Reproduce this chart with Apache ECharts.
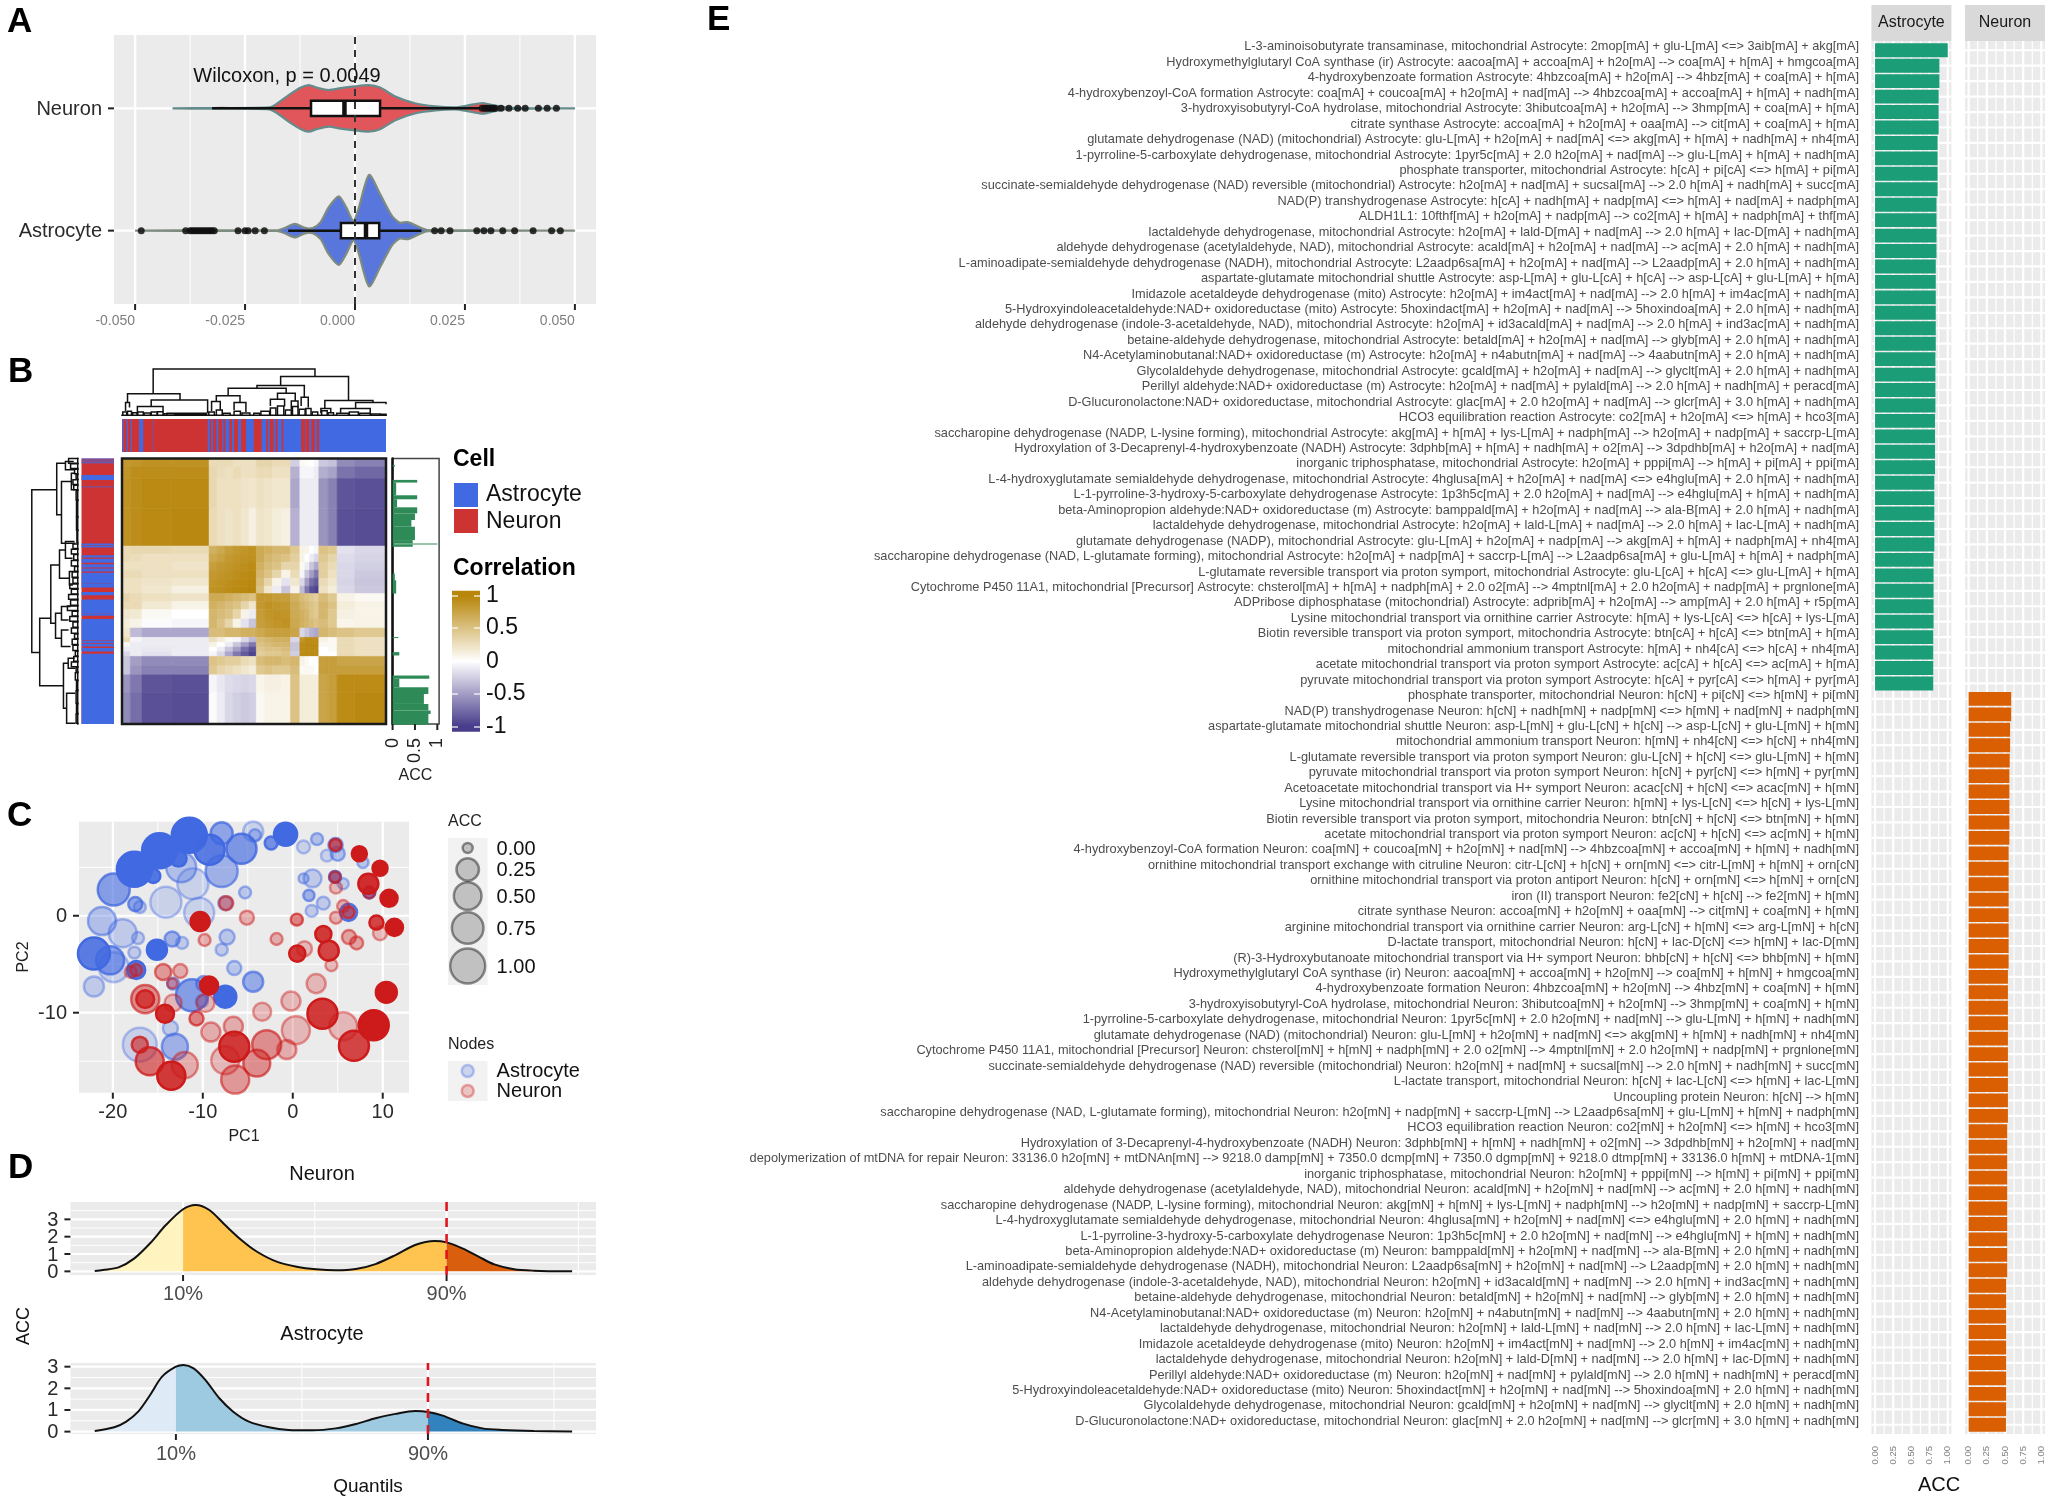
<!DOCTYPE html>
<html><head><meta charset="utf-8">
<style>html,body{margin:0;padding:0;background:#fff}#c{width:2050px;height:1504px}#c canvas{filter:blur(.45px)}</style>
<script src="https://cdn.jsdelivr.net/npm/echarts@6/dist/echarts.min.js"></script>
</head><body><div id="c"></div>
<script>
/* ---------- Panel A : violins ---------- */
const violinNeuronX=[-0.0415,-0.032,-0.0195,-0.0177,-0.015,-0.0123,-0.0105,-0.0087,-0.006,-0.0033,0,0.003,0.0057,0.0093,0.0138,0.0183,0.0228,0.0255,0.029,0.0318,0.0354,0.05];
const violinNeuronW=[0,0.003,0.008,0.04,0.11,0.17,0.19,0.17,0.15,0.165,0.18,0.19,0.17,0.095,0.04,0.016,0.008,0.022,0.044,0.022,0.005,0];
const violinAstroX=[-0.05,-0.03,-0.0177,-0.016,-0.0137,-0.0114,-0.0096,-0.0078,-0.006,-0.0037,-0.002,-0.0004,0.0007,0.0032,0.0057,0.0084,0.0102,0.012,0.0147,0.0165,0.03,0.05];
const violinAstroW=[0,0.003,0.003,0.022,0.055,0.022,0.022,0.07,0.19,0.28,0.19,0.08,0.165,0.455,0.3,0.12,0.065,0.07,0.027,0.005,0.002,0];
const boxNeuron=[-0.0325,-0.01,-0.0024,0.0057,0.0285];
const boxAstro=[-0.0152,-0.0032,0.0025,0.0055,0.0151];
const outNeuron=[0.0289,0.0295,0.03,0.0305,0.031,0.0315,0.0318,0.0332,0.035,0.037,0.0387,0.0417,0.0437,0.0458];
const outAstro=[-0.0486,-0.0385,-0.0375,-0.037,-0.0365,-0.036,-0.0355,-0.035,-0.0345,-0.034,-0.0335,-0.033,-0.0325,-0.032,-0.0266,-0.025,-0.0243,-0.0227,-0.0206,0.0181,0.0196,0.0216,0.0277,0.0293,0.0309,0.0336,0.0363,0.0405,0.0447,0.0467];
const xTicksA=[-0.05,-0.025,0,0.025,0.05];
const xMinorA=[-0.0375,-0.0125,0.0125,0.0375];

/* ---------- Panel B : correlation heat map (block edges in leaf order) ---------- */
const heatEdges=[0,25,60,150,262,286,310,334,358,382,404,428,452,480,507,535,550,564,578,592,620,647,700,794];
const heatRows=[
[.85,.88,.90,.90,.30,.30,.30,.25,.25,.25,.35,.35,.30,.30,-.25,.05,.02,.00,-.05,-.28,-.32,-.60,-.65],
[.88,.93,.94,.94,.32,.28,.25,.30,.25,.25,.30,.30,.25,.25,-.40,-.05,-.05,-.05,-.10,-.42,-.48,-.72,-.78],
[.90,.94,.97,.97,.32,.25,.25,.25,.22,.20,.25,.22,.20,.20,-.45,-.10,-.10,-.10,-.10,-.55,-.65,-.88,-.90],
[.90,.94,.97,.98,.30,.25,.22,.25,.20,.12,.22,.20,.15,.12,-.40,-.10,-.10,-.10,-.10,-.55,-.65,-.90,-.92],
[.30,.32,.32,.30,.65,.72,.80,.85,.88,.90,.70,.65,.60,.60,.45,.10,.10,.00,-.05,.50,.45,-.15,-.20],
[.30,.28,.25,.25,.72,.78,.85,.88,.90,.92,.70,.60,.55,.50,.40,.10,.00,-.10,-.20,.45,.35,-.18,-.22],
[.25,.25,.25,.22,.80,.85,.88,.90,.93,.95,.65,.55,.50,.35,.35,.05,-.10,-.30,-.45,.40,.30,-.20,-.25],
[.30,.30,.25,.25,.85,.88,.90,.93,.95,.97,.60,.50,.35,.10,.30,-.05,-.30,-.50,-.70,.40,.25,-.20,-.28],
[.25,.25,.22,.20,.88,.90,.93,.95,.97,.98,.55,.35,.10,-.15,.20,-.20,-.50,-.75,-.85,.30,.20,-.22,-.30],
[.25,.25,.20,.12,.90,.92,.95,.97,.98,.99,.50,.20,-.10,-.30,.10,-.35,-.70,-.90,-.97,.25,.15,-.20,-.28],
[.35,.30,.25,.22,.70,.70,.65,.60,.55,.50,.85,.85,.82,.80,.65,.55,.50,.45,.40,.55,.45,.10,.05],
[.30,.30,.18,.10,.65,.60,.55,.50,.35,.20,.85,.90,.88,.85,.70,.60,.55,.50,.45,.60,.50,.15,.10],
[.20,.18,.05,.00,.60,.55,.50,.35,.10,-.10,.82,.88,.90,.88,.70,.65,.60,.50,.45,.60,.45,.12,.10],
[.15,.10,-.02,-.05,.60,.50,.35,.10,-.15,-.30,.80,.85,.88,.90,.72,.65,.60,.55,.50,.55,.45,.08,.10],
[.20,-.35,-.45,-.45,.55,.55,.60,.60,.65,.65,.72,.78,.80,.80,.75,-.20,-.30,-.40,-.45,.60,.55,.50,.45],
[.30,-.05,-.10,-.10,.25,.15,.05,-.05,-.20,-.35,.55,.60,.65,.65,-.20,.88,.95,.95,.95,.10,.05,.30,.25],
[.05,-.10,-.10,-.10,.10,.00,-.10,-.30,-.50,-.70,.50,.55,.60,.60,-.30,.95,.97,.97,.97,.05,.05,.30,.25],
[-.10,-.10,-.12,-.10,.00,-.10,-.30,-.50,-.75,-.90,.45,.50,.50,.55,-.30,.95,.97,.97,.97,.00,.05,.30,.25],
[-.20,-.10,-.15,-.10,-.05,-.20,-.45,-.70,-.85,-.97,.40,.45,.45,.50,-.25,.95,.97,.97,.97,.00,.00,.30,.25],
[-.30,-.50,-.60,-.60,.50,.45,.40,.40,.30,.25,.55,.60,.60,.55,.60,.10,.05,.00,.00,.80,.80,.75,.75],
[-.30,-.55,-.65,-.65,.45,.35,.30,.25,.20,.15,.45,.50,.45,.45,.55,.05,.05,.05,.00,.80,.80,.80,.80],
[-.55,-.70,-.88,-.90,-.05,-.12,-.18,-.20,-.22,-.20,.08,.12,.12,.10,.50,.15,.15,.15,.15,.75,.80,.95,.95],
[-.60,-.75,-.90,-.92,-.02,-.10,-.20,-.25,-.28,-.25,.05,.10,.10,.10,.50,.15,.15,.15,.15,.75,.80,.95,.98]];
/* membership side bars: [start,end] of Astrocyte runs in leaf order, rest is Neuron */
const topBlueStart=[1,14,26,51,93,258,269,284,301,311,331,349,373,420,439,456,468,485,551,563,580,593];
const topBlueEnd=[5,18,30,64,95,264,274,290,305,323,337,358,396,434,444,462,480,539,553,569,586,794];
const leftBlueStart=[0,6,11,49,84,254,262,289,300,316,329,342,374,399,422,464,480,489,546,554,567,584];
const leftBlueEnd=[3,9,14,64,86,260,266,296,312,326,338,374,386,409,464,470,489,544,552,562,577,794];
/* marginal ACC bars in leaf order */
const accStart=[19,64,72,110,122,146,164,184,204,244,254,257,264,344,364,534,579,649,659,684,704,734,754,764];
const accEnd=[24,72,110,122,146,164,184,204,244,254,257,264,344,364,404,537,589,659,684,704,734,754,764,796];
const accValue=[.05,.55,.08,.55,.1,.55,.5,.42,.5,.45,1,.45,0,.05,.08,.13,.15,.82,.15,.8,.7,.8,.85,.8];
/* dendrograms: [from,to,height,heightFrom,heightTo] */
const topDendro=[[385,795,140,66,118],[320,453,66,40,48],[708,880,118,91,46],[648,768,91,83,56],[575,722,83,60,68],[545,605,60,43,40],[700,745,68,50,45],[760,778,56,30,25],[682,718,50,30,28],[735,752,45,20,25],[533,555,43,15,18],[590,620,40,18,12],[315,325,40,15,25],[380,523,48,28,8],[345,410,28,10,14],[420,520,8,3,3],[820,942,46,22,40],[810,835,22,8,10],[898,975,40,22,35],[860,935,22,10,8],[308,318,12,0,0],[320,330,14,0,0],[333,344,10,0,0],[346,360,12,0,0],[362,378,9,0,0],[380,395,12,0,0],[396,410,13,0,0],[412,440,7,0,0],[442,480,5,0,0],[482,518,4,0,0],[526,540,12,0,0],[545,560,18,0,0],[562,580,8,0,0],[590,606,14,0,0],[610,630,9,0,0],[640,655,8,0,0],[658,680,14,0,0],[682,696,24,0,0],[700,716,30,0,0],[720,735,18,0,0],[738,752,28,0,0],[755,770,20,0,0],[772,785,22,0,0],[788,802,12,0,0],[812,826,16,0,0],[828,842,10,0,0],[850,880,8,0,0],[882,905,12,0,0],[908,935,8,0,0],[938,960,6,0,0],[962,975,5,0,0],[306,975,2,0,0]];
const leftDendro=[[420,908,118,55,98],[340,495,55,33,43],[335,360,33,12,10],[395,580,43,18,8],[370,420,18,8,10],[805,1007,98,70,38],[645,820,70,48,58],[600,685,48,33,23],[790,865,58,43,43],[575,625,33,10,15],[665,705,23,12,14],[770,810,43,20,25],[840,890,43,25,20],[940,1075,38,26,30],[925,955,26,10,8],[1030,1120,30,8,8],[326,340,25,0,0],[342,356,20,0,0],[358,372,10,0,0],[374,388,6,0,0],[390,404,14,0,0],[406,420,12,0,0],[422,450,6,0,0],[452,500,5,0,0],[502,540,5,0,0],[542,578,4,0,0],[582,596,14,0,0],[598,612,18,0,0],[614,630,12,0,0],[632,648,18,0,0],[650,664,10,0,0],[666,682,16,0,0],[684,700,14,0,0],[702,716,22,0,0],[718,732,18,0,0],[734,748,25,0,0],[750,766,20,0,0],[768,782,28,0,0],[784,798,16,0,0],[800,814,22,0,0],[816,832,14,0,0],[834,850,18,0,0],[852,866,10,0,0],[868,884,16,0,0],[886,902,14,0,0],[904,918,8,0,0],[920,934,12,0,0],[936,950,18,0,0],[952,966,6,0,0],[968,990,8,0,0],[992,1020,5,0,0],[1022,1060,6,0,0],[1062,1090,5,0,0],[1092,1120,6,0,0],[326,1122,2,0,0]];
const corrLabels=['1','0.5','0','-0.5','-1'];
const margTicks=[0,.5,1];

/* ---------- Panel C : PCA bubble scatter ---------- */
const astroPC1=[-17.6,-14.8,-11.5,-9.25,-5.7,-7.9,-4.4,-4.2,-2.4,-0.8,1.2,2.7,4.75,5,3.8,7.8,-7.9,-12.4,-11.1,-14.1,-10.4,-19.9,-21.2,-22.1,-20.3,-19.9,-18.9,-17.6,-17.2,-17.5,-17,-15.5,-12.7,-15.1,-17.4,-13.4,-12.3,-7.3,-7.9,-6.5,-4.4,-5.3,-7.5,-22.1,-7.5,-11.2,-9.9,-13.3,-10.1,-17,-13.1,-13.6,2.2,1.2,1.8,3.4,2.1,4.7,5.6,8.5,6.2];
const astroPC2=[4.8,6.7,8.3,6.8,6.9,8.5,8.7,8.3,7.5,8.4,7.1,7.9,7.3,6.4,6.2,5.5,4.6,5,3.3,1.4,.3,2.7,-.55,-3.9,-4.6,-5.3,-1.8,-3.8,-2.3,1.2,.9,4.1,5.9,-3.5,-5.6,-2.4,-2.8,-2.2,-3.5,-5.4,-6.8,2.4,1.3,-7.3,-8.35,-8.2,-7,-7,-8.8,-13.3,-13.5,-11.6,3.85,3.85,2.1,1.3,.5,4,3.3,2.4,.35];
const astroACC=[1,1,1,.64,.64,.23,.16,.006,.014,.27,.014,.006,.026,.026,.006,.002,.77,.64,.71,.71,.64,.77,.52,.77,.52,.64,.52,.006,.006,.026,.006,.026,.06,.16,.1,.04,.006,.04,.006,.026,.16,.006,.026,.16,.23,.77,.04,.006,.006,.92,.41,.04,.1,0,.002,.014,.006,.006,.002,.006,.08];
const astroAlpha=[1,1,1,.85,.65,.55,.2,.35,.7,1,.2,.35,.5,.35,.2,.3,.45,.35,.2,.2,.2,.6,.35,.85,.6,.2,.25,.25,.25,.55,.25,.9,.9,1,.85,.45,.25,.3,.25,.3,.5,.3,.3,.25,1,.6,.45,.4,.3,.2,.45,.25,.25,.3,.45,.25,.25,.7,.25,.7,.7];
const neuronPC1=[9,10.4,3.3,6.8,5.6,.35,-.2,2.6,-3.4,-6.5,-2.9,-4,-.66,-6.4,-7.5,-6.6,-9.1,-13.5,-12,-15.9,-17,-16.4,-16.4,-14.2,-13.3,-10.7,-9.7,-9.3,-10.3,-14.4,-12.5,-18,-17.4,-9.8,-7.4,-5.1,.45,-1.8,.5,1.3,3.4,4,4.3,6.25,7.1,9.7,9.3,11.3,10.7,8.4,8.5,9.7,7.4,4.75,4.7,4.8,5.6,4.8,6.2,-13.4];
const neuronPC2=[-11.3,-7.9,-10.1,-13.4,-11.4,-11.8,-8.8,-7,-9.9,-13.5,-13.3,-15.2,-13.8,-16.9,-14.9,-11.4,-12,-16.5,-15.4,-15,-13.3,-8.6,-8.6,-10.1,-9,-10.6,-9,-7.2,-.6,-5.8,-5.7,-5.8,-5.6,-2.5,1.3,-.2,-.4,-2.4,-3.9,-3.4,-1.9,-3.6,-5.1,-2.2,-2.8,-1.8,-.7,-1.2,1.8,3.3,2.4,4.9,6.4,7.3,4,2.9,1,-.2,.35,-7];
const neuronACC=[.64,.19,.64,.64,.52,.52,.13,.13,.1,.64,.58,.46,.13,.52,.52,.13,.13,.52,.41,.52,.06,.52,.1,.1,.08,.026,.1,.1,.13,.06,.026,.006,.006,.006,.026,.026,.006,.006,.06,.04,.06,.16,.006,.026,.014,.026,.026,.08,.08,.16,.006,.04,.04,.006,.002,.006,.006,.006,.006,0];
const neuronAlpha=[1,1,.85,.8,.25,.25,.25,.25,.25,.85,.45,.45,.3,.4,.25,.3,.3,.85,.3,.6,.6,.45,.7,.9,.25,.5,.25,1,1,.4,.3,.25,.4,.3,.4,.3,.5,.3,.85,.25,.85,.8,.25,.35,.35,.25,.8,1,1,.9,.4,1,1,.6,.45,.25,.3,.3,.5,.3];
const legendACC=[0,.25,.5,.75,1];

/* ---------- Panel D : density quantile plots ---------- */
const densNX=[0,.017,.05,.083,.116,.149,.185,.211,.24,.273,.307,.34,.381,.423,.464,.505,.547,.588,.63,.671,.712,.737,.77,.804,.837,.878,.92,1];
const densNY=[.02,.08,.23,.75,1.62,2.67,3.58,3.83,3.54,2.67,1.81,1.13,.56,.27,.12,.06,.13,.42,.94,1.52,1.75,1.67,1.33,.85,.4,.12,.04,0];
const densAX=[0,.041,.066,.091,.116,.141,.17,.186,.207,.232,.261,.29,.323,.365,.406,.456,.505,.547,.588,.63,.671,.698,.729,.77,.812,.853,.92,1];
const densAY=[.03,.2,.46,.92,1.69,2.54,3,3.08,2.92,2.38,1.54,.92,.46,.2,.08,.06,.15,.35,.62,.82,.95,.91,.74,.38,.15,.08,.03,.01];
const quantN=[.185,.737], quantA=[.17,.698];
const quantLabels=['10%','90%'];

/* ---------- Panel E : reactions and ACC ---------- */
const reactions=[
"L-3-aminoisobutyrate transaminase, mitochondrial Astrocyte: 2mop[mA] + glu-L[mA] <=> 3aib[mA] + akg[mA]",
"Hydroxymethylglutaryl CoA synthase (ir) Astrocyte: aacoa[mA] + accoa[mA] + h2o[mA] --> coa[mA] + h[mA] + hmgcoa[mA]",
"4-hydroxybenzoate formation Astrocyte: 4hbzcoa[mA] + h2o[mA] --> 4hbz[mA] + coa[mA] + h[mA]",
"4-hydroxybenzoyl-CoA formation Astrocyte: coa[mA] + coucoa[mA] + h2o[mA] + nad[mA] --> 4hbzcoa[mA] + accoa[mA] + h[mA] + nadh[mA]",
"3-hydroxyisobutyryl-CoA hydrolase, mitochondrial Astrocyte: 3hibutcoa[mA] + h2o[mA] --> 3hmp[mA] + coa[mA] + h[mA]",
"citrate synthase Astrocyte: accoa[mA] + h2o[mA] + oaa[mA] --> cit[mA] + coa[mA] + h[mA]",
"glutamate dehydrogenase (NAD) (mitochondrial) Astrocyte: glu-L[mA] + h2o[mA] + nad[mA] <=> akg[mA] + h[mA] + nadh[mA] + nh4[mA]",
"1-pyrroline-5-carboxylate dehydrogenase, mitochondrial Astrocyte: 1pyr5c[mA] + 2.0 h2o[mA] + nad[mA] --> glu-L[mA] + h[mA] + nadh[mA]",
"phosphate transporter, mitochondrial Astrocyte: h[cA] + pi[cA] <=> h[mA] + pi[mA]",
"succinate-semialdehyde dehydrogenase (NAD) reversible (mitochondrial) Astrocyte: h2o[mA] + nad[mA] + sucsal[mA] --> 2.0 h[mA] + nadh[mA] + succ[mA]",
"NAD(P) transhydrogenase Astrocyte: h[cA] + nadh[mA] + nadp[mA] <=> h[mA] + nad[mA] + nadph[mA]",
"ALDH1L1: 10fthf[mA] + h2o[mA] + nadp[mA] --> co2[mA] + h[mA] + nadph[mA] + thf[mA]",
"lactaldehyde dehydrogenase, mitochondrial Astrocyte: h2o[mA] + lald-D[mA] + nad[mA] --> 2.0 h[mA] + lac-D[mA] + nadh[mA]",
"aldehyde dehydrogenase (acetylaldehyde, NAD), mitochondrial Astrocyte: acald[mA] + h2o[mA] + nad[mA] --> ac[mA] + 2.0 h[mA] + nadh[mA]",
"L-aminoadipate-semialdehyde dehydrogenase (NADH), mitochondrial Astrocyte: L2aadp6sa[mA] + h2o[mA] + nad[mA] --> L2aadp[mA] + 2.0 h[mA] + nadh[mA]",
"aspartate-glutamate mitochondrial shuttle Astrocyte: asp-L[mA] + glu-L[cA] + h[cA] --> asp-L[cA] + glu-L[mA] + h[mA]",
"Imidazole acetaldeyde dehydrogenase (mito) Astrocyte: h2o[mA] + im4act[mA] + nad[mA] --> 2.0 h[mA] + im4ac[mA] + nadh[mA]",
"5-Hydroxyindoleacetaldehyde:NAD+ oxidoreductase (mito) Astrocyte: 5hoxindact[mA] + h2o[mA] + nad[mA] --> 5hoxindoa[mA] + 2.0 h[mA] + nadh[mA]",
"aldehyde dehydrogenase (indole-3-acetaldehyde, NAD), mitochondrial Astrocyte: h2o[mA] + id3acald[mA] + nad[mA] --> 2.0 h[mA] + ind3ac[mA] + nadh[mA]",
"betaine-aldehyde dehydrogenase, mitochondrial Astrocyte: betald[mA] + h2o[mA] + nad[mA] --> glyb[mA] + 2.0 h[mA] + nadh[mA]",
"N4-Acetylaminobutanal:NAD+ oxidoreductase (m) Astrocyte: h2o[mA] + n4abutn[mA] + nad[mA] --> 4aabutn[mA] + 2.0 h[mA] + nadh[mA]",
"Glycolaldehyde dehydrogenase, mitochondrial Astrocyte: gcald[mA] + h2o[mA] + nad[mA] --> glyclt[mA] + 2.0 h[mA] + nadh[mA]",
"Perillyl aldehyde:NAD+ oxidoreductase (m) Astrocyte: h2o[mA] + nad[mA] + pylald[mA] --> 2.0 h[mA] + nadh[mA] + peracd[mA]",
"D-Glucuronolactone:NAD+ oxidoreductase, mitochondrial Astrocyte: glac[mA] + 2.0 h2o[mA] + nad[mA] --> glcr[mA] + 3.0 h[mA] + nadh[mA]",
"HCO3 equilibration reaction Astrocyte: co2[mA] + h2o[mA] <=> h[mA] + hco3[mA]",
"saccharopine dehydrogenase (NADP, L-lysine forming), mitochondrial Astrocyte: akg[mA] + h[mA] + lys-L[mA] + nadph[mA] --> h2o[mA] + nadp[mA] + saccrp-L[mA]",
"Hydroxylation of 3-Decaprenyl-4-hydroxybenzoate (NADH) Astrocyte: 3dphb[mA] + h[mA] + nadh[mA] + o2[mA] --> 3dpdhb[mA] + h2o[mA] + nad[mA]",
"inorganic triphosphatase, mitochondrial Astrocyte: h2o[mA] + pppi[mA] --> h[mA] + pi[mA] + ppi[mA]",
"L-4-hydroxyglutamate semialdehyde dehydrogenase, mitochondrial Astrocyte: 4hglusa[mA] + h2o[mA] + nad[mA] <=> e4hglu[mA] + 2.0 h[mA] + nadh[mA]",
"L-1-pyrroline-3-hydroxy-5-carboxylate dehydrogenase Astrocyte: 1p3h5c[mA] + 2.0 h2o[mA] + nad[mA] --> e4hglu[mA] + h[mA] + nadh[mA]",
"beta-Aminopropion aldehyde:NAD+ oxidoreductase (m) Astrocyte: bamppald[mA] + h2o[mA] + nad[mA] --> ala-B[mA] + 2.0 h[mA] + nadh[mA]",
"lactaldehyde dehydrogenase, mitochondrial Astrocyte: h2o[mA] + lald-L[mA] + nad[mA] --> 2.0 h[mA] + lac-L[mA] + nadh[mA]",
"glutamate dehydrogenase (NADP), mitochondrial Astrocyte: glu-L[mA] + h2o[mA] + nadp[mA] --> akg[mA] + h[mA] + nadph[mA] + nh4[mA]",
"saccharopine dehydrogenase (NAD, L-glutamate forming), mitochondrial Astrocyte: h2o[mA] + nadp[mA] + saccrp-L[mA] --> L2aadp6sa[mA] + glu-L[mA] + h[mA] + nadph[mA]",
"L-glutamate reversible transport via proton symport, mitochondrial Astrocyte: glu-L[cA] + h[cA] <=> glu-L[mA] + h[mA]",
"Cytochrome P450 11A1, mitochondrial [Precursor] Astrocyte: chsterol[mA] + h[mA] + nadph[mA] + 2.0 o2[mA] --> 4mptnl[mA] + 2.0 h2o[mA] + nadp[mA] + prgnlone[mA]",
"ADPribose diphosphatase (mitochondrial) Astrocyte: adprib[mA] + h2o[mA] --> amp[mA] + 2.0 h[mA] + r5p[mA]",
"Lysine mitochondrial transport via ornithine carrier Astrocyte: h[mA] + lys-L[cA] <=> h[cA] + lys-L[mA]",
"Biotin reversible transport via proton symport, mitochondria Astrocyte: btn[cA] + h[cA] <=> btn[mA] + h[mA]",
"mitochondrial ammonium transport Astrocyte: h[mA] + nh4[cA] <=> h[cA] + nh4[mA]",
"acetate mitochondrial transport via proton symport Astrocyte: ac[cA] + h[cA] <=> ac[mA] + h[mA]",
"pyruvate mitochondrial transport via proton symport Astrocyte: h[cA] + pyr[cA] <=> h[mA] + pyr[mA]",
"phosphate transporter, mitochondrial Neuron: h[cN] + pi[cN] <=> h[mN] + pi[mN]",
"NAD(P) transhydrogenase Neuron: h[cN] + nadh[mN] + nadp[mN] <=> h[mN] + nad[mN] + nadph[mN]",
"aspartate-glutamate mitochondrial shuttle Neuron: asp-L[mN] + glu-L[cN] + h[cN] --> asp-L[cN] + glu-L[mN] + h[mN]",
"mitochondrial ammonium transport Neuron: h[mN] + nh4[cN] <=> h[cN] + nh4[mN]",
"L-glutamate reversible transport via proton symport Neuron: glu-L[cN] + h[cN] <=> glu-L[mN] + h[mN]",
"pyruvate mitochondrial transport via proton symport Neuron: h[cN] + pyr[cN] <=> h[mN] + pyr[mN]",
"Acetoacetate mitochondrial transport via H+ symport Neuron: acac[cN] + h[cN] <=> acac[mN] + h[mN]",
"Lysine mitochondrial transport via ornithine carrier Neuron: h[mN] + lys-L[cN] <=> h[cN] + lys-L[mN]",
"Biotin reversible transport via proton symport, mitochondria Neuron: btn[cN] + h[cN] <=> btn[mN] + h[mN]",
"acetate mitochondrial transport via proton symport Neuron: ac[cN] + h[cN] <=> ac[mN] + h[mN]",
"4-hydroxybenzoyl-CoA formation Neuron: coa[mN] + coucoa[mN] + h2o[mN] + nad[mN] --> 4hbzcoa[mN] + accoa[mN] + h[mN] + nadh[mN]",
"ornithine mitochondrial transport exchange with citruline Neuron: citr-L[cN] + h[cN] + orn[mN] <=> citr-L[mN] + h[mN] + orn[cN]",
"ornithine mitochondrial transport via proton antiport Neuron: h[cN] + orn[mN] <=> h[mN] + orn[cN]",
"iron (II) transport Neuron: fe2[cN] + h[cN] --> fe2[mN] + h[mN]",
"citrate synthase Neuron: accoa[mN] + h2o[mN] + oaa[mN] --> cit[mN] + coa[mN] + h[mN]",
"arginine mitochondrial transport via ornithine carrier Neuron: arg-L[cN] + h[mN] <=> arg-L[mN] + h[cN]",
"D-lactate transport, mitochondrial Neuron: h[cN] + lac-D[cN] <=> h[mN] + lac-D[mN]",
"(R)-3-Hydroxybutanoate mitochondrial transport via H+ symport Neuron: bhb[cN] + h[cN] <=> bhb[mN] + h[mN]",
"Hydroxymethylglutaryl CoA synthase (ir) Neuron: aacoa[mN] + accoa[mN] + h2o[mN] --> coa[mN] + h[mN] + hmgcoa[mN]",
"4-hydroxybenzoate formation Neuron: 4hbzcoa[mN] + h2o[mN] --> 4hbz[mN] + coa[mN] + h[mN]",
"3-hydroxyisobutyryl-CoA hydrolase, mitochondrial Neuron: 3hibutcoa[mN] + h2o[mN] --> 3hmp[mN] + coa[mN] + h[mN]",
"1-pyrroline-5-carboxylate dehydrogenase, mitochondrial Neuron: 1pyr5c[mN] + 2.0 h2o[mN] + nad[mN] --> glu-L[mN] + h[mN] + nadh[mN]",
"glutamate dehydrogenase (NAD) (mitochondrial) Neuron: glu-L[mN] + h2o[mN] + nad[mN] <=> akg[mN] + h[mN] + nadh[mN] + nh4[mN]",
"Cytochrome P450 11A1, mitochondrial [Precursor] Neuron: chsterol[mN] + h[mN] + nadph[mN] + 2.0 o2[mN] --> 4mptnl[mN] + 2.0 h2o[mN] + nadp[mN] + prgnlone[mN]",
"succinate-semialdehyde dehydrogenase (NAD) reversible (mitochondrial) Neuron: h2o[mN] + nad[mN] + sucsal[mN] --> 2.0 h[mN] + nadh[mN] + succ[mN]",
"L-lactate transport, mitochondrial Neuron: h[cN] + lac-L[cN] <=> h[mN] + lac-L[mN]",
"Uncoupling protein Neuron: h[cN] --> h[mN]",
"saccharopine dehydrogenase (NAD, L-glutamate forming), mitochondrial Neuron: h2o[mN] + nadp[mN] + saccrp-L[mN] --> L2aadp6sa[mN] + glu-L[mN] + h[mN] + nadph[mN]",
"HCO3 equilibration reaction Neuron: co2[mN] + h2o[mN] <=> h[mN] + hco3[mN]",
"Hydroxylation of 3-Decaprenyl-4-hydroxybenzoate (NADH) Neuron: 3dphb[mN] + h[mN] + nadh[mN] + o2[mN] --> 3dpdhb[mN] + h2o[mN] + nad[mN]",
"depolymerization of mtDNA for repair Neuron: 33136.0 h2o[mN] + mtDNAn[mN] --> 9218.0 damp[mN] + 7350.0 dcmp[mN] + 7350.0 dgmp[mN] + 9218.0 dtmp[mN] + 33136.0 h[mN] + mtDNA-1[mN]",
"inorganic triphosphatase, mitochondrial Neuron: h2o[mN] + pppi[mN] --> h[mN] + pi[mN] + ppi[mN]",
"aldehyde dehydrogenase (acetylaldehyde, NAD), mitochondrial Neuron: acald[mN] + h2o[mN] + nad[mN] --> ac[mN] + 2.0 h[mN] + nadh[mN]",
"saccharopine dehydrogenase (NADP, L-lysine forming), mitochondrial Neuron: akg[mN] + h[mN] + lys-L[mN] + nadph[mN] --> h2o[mN] + nadp[mN] + saccrp-L[mN]",
"L-4-hydroxyglutamate semialdehyde dehydrogenase, mitochondrial Neuron: 4hglusa[mN] + h2o[mN] + nad[mN] <=> e4hglu[mN] + 2.0 h[mN] + nadh[mN]",
"L-1-pyrroline-3-hydroxy-5-carboxylate dehydrogenase Neuron: 1p3h5c[mN] + 2.0 h2o[mN] + nad[mN] --> e4hglu[mN] + h[mN] + nadh[mN]",
"beta-Aminopropion aldehyde:NAD+ oxidoreductase (m) Neuron: bamppald[mN] + h2o[mN] + nad[mN] --> ala-B[mN] + 2.0 h[mN] + nadh[mN]",
"L-aminoadipate-semialdehyde dehydrogenase (NADH), mitochondrial Neuron: L2aadp6sa[mN] + h2o[mN] + nad[mN] --> L2aadp[mN] + 2.0 h[mN] + nadh[mN]",
"aldehyde dehydrogenase (indole-3-acetaldehyde, NAD), mitochondrial Neuron: h2o[mN] + id3acald[mN] + nad[mN] --> 2.0 h[mN] + ind3ac[mN] + nadh[mN]",
"betaine-aldehyde dehydrogenase, mitochondrial Neuron: betald[mN] + h2o[mN] + nad[mN] --> glyb[mN] + 2.0 h[mN] + nadh[mN]",
"N4-Acetylaminobutanal:NAD+ oxidoreductase (m) Neuron: h2o[mN] + n4abutn[mN] + nad[mN] --> 4aabutn[mN] + 2.0 h[mN] + nadh[mN]",
"lactaldehyde dehydrogenase, mitochondrial Neuron: h2o[mN] + lald-L[mN] + nad[mN] --> 2.0 h[mN] + lac-L[mN] + nadh[mN]",
"Imidazole acetaldeyde dehydrogenase (mito) Neuron: h2o[mN] + im4act[mN] + nad[mN] --> 2.0 h[mN] + im4ac[mN] + nadh[mN]",
"lactaldehyde dehydrogenase, mitochondrial Neuron: h2o[mN] + lald-D[mN] + nad[mN] --> 2.0 h[mN] + lac-D[mN] + nadh[mN]",
"Perillyl aldehyde:NAD+ oxidoreductase (m) Neuron: h2o[mN] + nad[mN] + pylald[mN] --> 2.0 h[mN] + nadh[mN] + peracd[mN]",
"5-Hydroxyindoleacetaldehyde:NAD+ oxidoreductase (mito) Neuron: 5hoxindact[mN] + h2o[mN] + nad[mN] --> 5hoxindoa[mN] + 2.0 h[mN] + nadh[mN]",
"Glycolaldehyde dehydrogenase, mitochondrial Neuron: gcald[mN] + h2o[mN] + nad[mN] --> glyclt[mN] + 2.0 h[mN] + nadh[mN]",
"D-Glucuronolactone:NAD+ oxidoreductase, mitochondrial Neuron: glac[mN] + 2.0 h2o[mN] + nad[mN] --> glcr[mN] + 3.0 h[mN] + nadh[mN]"];
const accAstrocyte=[1,.885,.885,.875,.875,.875,.86,.86,.86,.86,.845,.845,.845,.845,.835,.835,.835,.835,.835,.835,.83,.83,.83,.83,.825,.825,.825,.825,.815,.815,.815,.815,.815,.805,.805,.805,.805,.805,.8,.8,.8,.8];
const accNeuron=[.585,.585,.57,.57,.565,.56,.56,.56,.56,.56,.55,.55,.55,.55,.55,.55,.55,.55,.54,.54,.54,.54,.54,.54,.54,.54,.54,.54,.53,.53,.53,.53,.53,.53,.53,.53,.53,.53,.515,.515,.515,.515,.515,.515,.515,.515,.515,.513];
const accTicks=[0,.25,.5,.75,1];
const accTickMinor=[.125,.375,.625,.875];

/* ---------- colours & page layout ---------- */
const FONT='"Liberation Sans",Arial,sans-serif';
const BLUE='#4169E1',RED='#CD3333',PANEL='#EBEBEB';
const layout={
 A:[114,35,482,269],heat:[122,458.5,264,265.5],topBar:[122,419,264,33],topDen:[122,368,264,48],
 leftBar:[81.5,458.5,32.5,265.5],leftDen:[31,458.5,47.5,265.5],marg:[392.6,458.5,46.5,265.5],
 C:[79,821.7,330,271],DN:[70.4,1202,525.6,73],DA:[70.4,1363,525.6,71],
 EA:[1871.4,41,80,1393],EN:[1965,41,80,1393],ELab:[1860,39.2,1,1389.9]};

const grids=[],xAxes=[],yAxes=[],series=[];
const F=(s,b)=>(b?'bold ':'')+s+'px '+FONT;
function axis(i,o){
  return Object.assign({type:'value',gridIndex:i,splitLine:{show:false},axisLine:{show:false},axisTick:{show:false},axisLabel:{show:false}},o);
}
function addGrid(r,bg,x,y){
  const i=grids.length;
  grids.push({left:r[0],top:r[1],width:r[2],height:r[3],show:!!bg,backgroundColor:bg||'transparent',borderWidth:0,containLabel:false});
  xAxes.push(axis(i,x));yAxes.push(axis(i,y));
  return i;
}
/* ticks and tick labels placed through the axis scale */
function marks(i,dir,vals,texts,at,o){
  const tl=o.tick===undefined?6:o.tick;
  series.push({type:'custom',xAxisIndex:i,yAxisIndex:i,silent:true,clip:false,z:12,data:vals.map((v,k)=>[v,k]),
   encode:dir==='x'?{x:0}:{y:0},
   renderItem:(p,api)=>{
     const v=api.value(0),k=api.value(1),c=dir==='x'?api.coord([v,at]):api.coord([at,v]),kids=[];
     if(tl>0)kids.push(dir==='x'?{type:'line',shape:{x1:c[0],y1:c[1],x2:c[0],y2:c[1]+tl},style:{stroke:'#222',lineWidth:2}}
                                :{type:'line',shape:{x1:c[0]-tl,y1:c[1],x2:c[0],y2:c[1]},style:{stroke:'#222',lineWidth:2}});
     kids.push({type:'text',x:dir==='x'?c[0]:c[0]-o.off,y:dir==='x'?c[1]+o.off:c[1]+1,rotation:o.rot||0,
       style:{text:texts[k],font:F(o.size),fill:o.color,align:o.align||(dir==='x'?'center':'right'),verticalAlign:'middle'}});
     return {type:'group',children:kids};
   }});
}
function gridLines(i,xr,yr,xMaj,xMin,yMaj,yMin,wMaj,wMin){
  const d=[];
  xMaj.forEach(v=>d.push([v,yr[0],v,yr[1],wMaj]));
  xMin.forEach(v=>d.push([v,yr[0],v,yr[1],wMin]));
  yMaj.forEach(v=>d.push([xr[0],v,xr[1],v,wMaj]));
  yMin.forEach(v=>d.push([xr[0],v,xr[1],v,wMin]));
  series.push({type:'custom',xAxisIndex:i,yAxisIndex:i,silent:true,z:1,clip:true,data:d,encode:{x:[0,2],y:[1,3]},
    renderItem:(p,api)=>{const a=api.coord([api.value(0),api.value(1)]),b=api.coord([api.value(2),api.value(3)]);
      return {type:'line',shape:{x1:a[0],y1:a[1],x2:b[0],y2:b[1]},style:{stroke:'#fff',lineWidth:api.value(4)}};}});
}

/* ---- A ---- */
const iA=addGrid(layout.A,PANEL,{min:-0.0548,max:0.0548},{min:.4,max:2.6});
gridLines(iA,[-0.0548,0.0548],[.4,2.6],xTicksA,xMinorA,[1,2],[],2.4,1);
marks(iA,'x',xTicksA,xTicksA.map(v=>v.toFixed(3)),.4,{off:17,size:14,color:'#7f7f7f',align:'right'});
marks(iA,'y',[1,2],['Astrocyte','Neuron'],-0.0548,{off:12,size:20,color:'#2a2a2a'});
function violin(xs,ws,cat,fill,stroke){
  series.push({type:'custom',xAxisIndex:iA,yAxisIndex:iA,z:3,silent:true,data:[[cat]],encode:{y:0},
   renderItem:(p,api)=>{const c=api.value(0),pts=[];
     xs.forEach((x,k)=>pts.push(api.coord([x,c+ws[k]])));
     for(let k=xs.length-1;k>=0;k--)pts.push(api.coord([xs[k],c-ws[k]]));
     return {type:'polygon',shape:{points:pts,smooth:.25},style:{fill:fill,stroke:stroke,lineWidth:2.2}};}});
}
violin(violinNeuronX,violinNeuronW,2,'#E0565A','#648C8C');
violin(violinAstroX,violinAstroW,1,'#5876DC','#7E8C80');
function boxPlot(b,cat){
  const hw=.0628;
  series.push({type:'custom',xAxisIndex:iA,yAxisIndex:iA,z:4,silent:true,data:[b],encode:{x:[0,1,2,3,4]},
   renderItem:(p,api)=>{const v=[0,1,2,3,4].map(k=>api.value(k));
     const pt=(x,y)=>api.coord([x,y]);
     const lo=pt(v[0],cat),hi=pt(v[4],cat),a=pt(v[1],cat+hw),d=pt(v[3],cat-hw),m1=pt(v[2],cat+hw),m2=pt(v[2],cat-hw);
     return {type:'group',children:[
      {type:'line',shape:{x1:lo[0],y1:lo[1],x2:hi[0],y2:hi[1]},style:{stroke:'#111',lineWidth:2.5}},
      {type:'rect',shape:{x:a[0],y:a[1],width:d[0]-a[0],height:d[1]-a[1]},style:{fill:'#fff',stroke:'#111',lineWidth:2.5}},
      {type:'line',shape:{x1:m1[0],y1:m1[1],x2:m2[0],y2:m2[1]},style:{stroke:'#111',lineWidth:4.5}}]};}});
}
boxPlot(boxNeuron,2);boxPlot(boxAstro,1);
series.push({type:'scatter',xAxisIndex:iA,yAxisIndex:iA,z:5,silent:true,symbolSize:7,itemStyle:{color:'#111',opacity:.85},data:outNeuron.map(x=>[x,2]).concat(outAstro.map(x=>[x,1]))});
series.push({type:'line',xAxisIndex:iA,yAxisIndex:iA,z:6,silent:true,symbol:'none',data:[[0,.4],[0,2.6]],lineStyle:{color:'#333',width:2,type:[7,6]}});

/* ---- B ---- */
const iH=addGrid(layout.heat,null,{min:0,max:794},{min:0,max:794,inverse:true});
const heatData=[];heatRows.forEach((r,j)=>r.forEach((v,i)=>heatData.push([i,j,v])));
const heatIdx=series.length;
series.push({type:'custom',xAxisIndex:iH,yAxisIndex:iH,z:2,silent:true,data:heatData,encode:{tooltip:2},
 renderItem:(p,api)=>{const i=api.value(0),j=api.value(1);
   const a=api.coord([heatEdges[i],heatEdges[j]]),b=api.coord([heatEdges[i+1],heatEdges[j+1]]),c=api.visual('color');
   return {type:'rect',shape:{x:a[0],y:a[1],width:b[0]-a[0],height:b[1]-a[1]},style:{fill:c,stroke:c,lineWidth:.6}};}});
function runs(start,end){return start.map((s,k)=>[s,end[k]]);}
const iTB=addGrid(layout.topBar,RED,{min:0,max:794},{min:0,max:1});
series.push({type:'custom',xAxisIndex:iTB,yAxisIndex:iTB,z:2,silent:true,data:runs(topBlueStart,topBlueEnd),encode:{x:[0,1]},
 renderItem:(p,api)=>{const a=api.coord([api.value(0),1]),b=api.coord([api.value(1),0]);
   return {type:'rect',shape:{x:a[0],y:a[1],width:b[0]-a[0],height:b[1]-a[1]},style:{fill:BLUE}};}});
const iLB=addGrid(layout.leftBar,RED,{min:0,max:1},{min:0,max:794,inverse:true});
series.push({type:'custom',xAxisIndex:iLB,yAxisIndex:iLB,z:2,silent:true,data:runs(leftBlueStart,leftBlueEnd),encode:{y:[0,1]},
 renderItem:(p,api)=>{const a=api.coord([0,api.value(0)]),b=api.coord([1,api.value(1)]);
   return {type:'rect',shape:{x:a[0],y:a[1],width:b[0]-a[0],height:b[1]-a[1]},style:{fill:BLUE}};}});
const iTD=addGrid(layout.topDen,null,{min:306,max:975},{min:0,max:143});
series.push({type:'custom',xAxisIndex:iTD,yAxisIndex:iTD,z:2,silent:true,clip:false,data:topDendro,encode:{x:[0,1],y:[2,3,4]},
 renderItem:(p,api)=>{const x0=api.value(0),x1=api.value(1),h=api.value(2),a=api.coord([x0,api.value(3)]),b=api.coord([x0,h]),c=api.coord([x1,h]),d=api.coord([x1,api.value(4)]);
   return {type:'polyline',shape:{points:[a,b,c,d]},style:{fill:'none',stroke:'#111',lineWidth:1.5}};}});
const iLD=addGrid(layout.leftDen,null,{min:0,max:120,inverse:true},{min:326,max:1122,inverse:true});
series.push({type:'custom',xAxisIndex:iLD,yAxisIndex:iLD,z:2,silent:true,clip:false,data:leftDendro,encode:{y:[0,1],x:[2,3,4]},
 renderItem:(p,api)=>{const y0=api.value(0),y1=api.value(1),h=api.value(2),a=api.coord([api.value(3),y0]),b=api.coord([h,y0]),c=api.coord([h,y1]),d=api.coord([api.value(4),y1]);
   return {type:'polyline',shape:{points:[a,b,c,d]},style:{fill:'none',stroke:'#111',lineWidth:1.5}};}});
const iM=addGrid(layout.marg,null,{min:0,max:1.04},{min:0,max:794,inverse:true,axisLine:{show:true,lineStyle:{color:'#111',width:2.5}}});
grids[iM].show=true;grids[iM].borderWidth=1.5;grids[iM].borderColor='#444';
marks(iM,'x',margTicks,margTicks.map(String),794,{off:14,size:18,color:'#222',rot:Math.PI/2,align:'right'});
series.push({type:'custom',xAxisIndex:iM,yAxisIndex:iM,z:2,silent:true,data:accValue.map((v,k)=>[accStart[k],accEnd[k],v]),encode:{y:[0,1],x:2},
 renderItem:(p,api)=>{const a=api.coord([0,api.value(0)]),b=api.coord([api.value(2),api.value(1)]);
   return {type:'rect',shape:{x:a[0],y:a[1],width:b[0]-a[0],height:b[1]-a[1]},style:{fill:'#2E8B57'}};}});

/* ---- C ---- */
const cX=[-20,-10,0,10],cXm=[-15,-5,5],cY=[-10,0],cYm=[-15,-5,5];
const iC=addGrid(layout.C,PANEL,{min:-23.76,max:12.92},{min:-18.25,max:9.7});
gridLines(iC,[-23.76,12.92],[-18.25,9.7],cX,cXm,cY,cYm,2.2,1);
marks(iC,'x',cX,cX.map(String),-18.25,{off:20,size:20,color:'#2a2a2a'});
marks(iC,'y',cY,cY.map(String),-23.76,{off:12,size:20,color:'#2a2a2a'});
const sizeOf=a=>10+25*Math.sqrt(a);
function bubbles(xs,ys,acc,al,col){
  series.push({type:'scatter',xAxisIndex:iC,yAxisIndex:iC,z:3,silent:true,clip:true,
   data:xs.map((x,k)=>({value:[x,ys[k]],symbolSize:sizeOf(acc[k]),
     itemStyle:{opacity:1,borderWidth:2.5,color:echarts.color.modifyAlpha(col,al[k]),borderColor:echarts.color.modifyAlpha(col,Math.min(1,al[k]+.18))}}))});
}
bubbles(astroPC1,astroPC2,astroACC,astroAlpha,'#4169E1');
bubbles(neuronPC1,neuronPC2,neuronACC,neuronAlpha,'#CD1A1A');

/* ---- D ---- */
function density(r,xs,ys,q,yTicks,yMinor,cols,ymin,ymax,off){
  const xr=[-.051,1.05],xMin=[(q[0]+q[1])/2,q[1]+(q[1]-q[0])/2];
  const i=addGrid(r,PANEL,{min:xr[0],max:xr[1]},{min:ymin,max:ymax});
  gridLines(i,xr,[ymin,ymax],q,xMin,yTicks,yMinor,2.2,1);
  marks(i,'x',q,quantLabels,ymin,{off:off,size:20,color:'#4d4d4d'});
  marks(i,'y',yTicks,yTicks.map(String),xr[0],{off:12,size:20,color:'#2a2a2a'});
  const pts=xs.map((x,k)=>[x,ys[k]]);
  const parts=[pts.filter(p=>p[0]<=q[0]),pts.filter(p=>p[0]>=q[0]&&p[0]<=q[1]),pts.filter(p=>p[0]>=q[1])];
  parts.forEach((d,k)=>series.push({type:'line',xAxisIndex:i,yAxisIndex:i,z:3,silent:true,symbol:'none',smooth:.3,data:d,lineStyle:{width:0},areaStyle:{color:cols[k],opacity:1,origin:0}}));
  series.push({type:'line',xAxisIndex:i,yAxisIndex:i,z:4,silent:true,symbol:'none',smooth:.3,data:pts,lineStyle:{color:'#111',width:2}});
  series.push({type:'line',xAxisIndex:i,yAxisIndex:i,z:5,silent:true,symbol:'none',data:[[q[1],ymin],[q[1],ymax]],lineStyle:{color:'#E0141C',width:2.6,type:[9,7]}});
}
density(layout.DN,densNX,densNY,quantN,[0,1,2,3],[.5,1.5,2.5,3.5],['#FFF3BF','#FEC44F','#D95F0E'],-.21,4,19);
density(layout.DA,densAX,densAY,quantA,[0,1,2,3],[.5,1.5,2.5],['#DEEBF7','#9ECAE1','#3182BD'],-.11,3.17,20);

/* ---- E ---- */
const rowsIdx=reactions.map((_,k)=>k+1);
function accPanel(r,vals,first,color){
  const i=addGrid(r,PANEL,{min:-.05,max:1.05},{min:.4,max:90.6,inverse:true});
  gridLines(i,[-.05,1.05],[.4,90.6],accTicks,accTickMinor,rowsIdx,[],2.2,1.2);
  marks(i,'x',accTicks,accTicks.map(v=>v.toFixed(2)),90.6,{tick:0,off:12,size:9.5,color:'#7f7f7f',rot:Math.PI/2,align:'right'});
  series.push({type:'custom',xAxisIndex:i,yAxisIndex:i,z:3,silent:true,data:vals.map((v,k)=>[v,k+first]),encode:{x:0,y:1},
   renderItem:(p,api)=>{const a=api.coord([0,api.value(1)-.45]),b=api.coord([api.value(0),api.value(1)+.45]);
     return {type:'rect',shape:{x:a[0],y:a[1],width:b[0]-a[0],height:b[1]-a[1]},style:{fill:color}};}});
}
accPanel(layout.EA,accAstrocyte,1,'#1B9E77');
accPanel(layout.EN,accNeuron,43,'#D95F02');
addGrid(layout.ELab,null,{min:0,max:1},{type:'category',data:reactions,inverse:true,
  axisLine:{show:false},axisTick:{show:false},
  axisLabel:{show:true,interval:0,fontSize:12.75,color:'#4d4d4d',margin:1,fontFamily:FONT,hideOverlap:false}});

/* ---- decorations: letters, legends, axis titles ---- */
const g=[];
function T(x,y,text,font,fill,align,rot){
  g.push({type:'text',x:x,y:y,rotation:rot||0,silent:true,z:50,style:{text:text,font:font,fill:fill||'#111',align:align||'left',verticalAlign:'middle'}});
}
[['A',7,22.5],['B',8,372.5],['C',7,816],['D',8,1168],['E',707,20]].forEach(l=>T(l[1],l[2],l[0],F(35,true),'#000'));
T(287,76,'Wilcoxon, p = 0.0049',F(20),'#111','center');
g.push({type:'rect',z:40,silent:true,shape:{x:122,y:458.5,width:264,height:265.5},style:{fill:'none',stroke:'#1a1a1a',lineWidth:2.5}});
T(415.5,776,'ACC',F(16),'#222','center');
T(453,460,'Cell',F(23,true),'#000');
g.push({type:'rect',z:40,silent:true,shape:{x:454,y:483,width:24,height:24},style:{fill:BLUE}});
g.push({type:'rect',z:40,silent:true,shape:{x:454,y:509,width:24,height:24},style:{fill:RED}});
T(486,495,'Astrocyte',F(23),'#111');T(486,522,'Neuron',F(23),'#111');
T(453,569,'Correlation',F(23,true),'#000');
g.push({type:'rect',z:40,silent:true,shape:{x:452,y:590.7,width:28,height:141},style:{fill:new echarts.graphic.LinearGradient(0,0,0,1,[{offset:0,color:'#B8860B'},{offset:.04,color:'#B8860B'},{offset:.5,color:'#fff'},{offset:.96,color:'#483D8B'},{offset:1,color:'#483D8B'}])}});
[596,628,662,694,727].forEach((y,k)=>{
  T(486,y,corrLabels[k],F(23),'#111');
  g.push({type:'line',z:41,silent:true,shape:{x1:452,y1:y,x2:458,y2:y},style:{stroke:'#fff',lineWidth:1.2}});
  g.push({type:'line',z:41,silent:true,shape:{x1:474,y1:y,x2:480,y2:y},style:{stroke:'#fff',lineWidth:1.2}});
});
T(448,822,'ACC',F(16),'#222');
g.push({type:'rect',z:40,silent:true,shape:{x:448,y:838,width:39.5,height:147},style:{fill:'#F2F2F2'}});
[848,869.5,896,928,966].forEach((y,k)=>{
  const d=sizeOf(legendACC[k]);
  g.push({type:'circle',z:41,silent:true,shape:{cx:467.7,cy:y,r:d/2},style:{fill:'rgba(0,0,0,.2)',stroke:'rgba(0,0,0,.42)',lineWidth:2.5}});
  T(496.6,y+1,legendACC[k].toFixed(2),F(20),'#111');
});
T(448,1045,'Nodes',F(16),'#222');
g.push({type:'rect',z:40,silent:true,shape:{x:448,y:1061,width:39.5,height:40},style:{fill:'#F2F2F2'}});
[[1071,'#4169E1','Astrocyte'],[1091,'#CD1A1A','Neuron']].forEach(a=>{
  g.push({type:'circle',z:41,silent:true,shape:{cx:467.7,cy:a[0],r:6},style:{fill:echarts.color.modifyAlpha(a[1],.22),stroke:echarts.color.modifyAlpha(a[1],.35),lineWidth:2.5}});
  T(496.6,a[0],a[2],F(20),'#111');
});
T(244,1137,'PC1',F(16),'#222','center');
T(24,957,'PC2',F(16),'#222','center',Math.PI/2);
T(322,1174,'Neuron',F(20),'#111','center');
T(322,1334,'Astrocyte',F(20),'#111','center');
T(24,1326,'ACC',F(18),'#111','center',Math.PI/2);
T(368,1487,'Quantils',F(19),'#111','center');
[[1871.4,'Astrocyte'],[1965,'Neuron']].forEach(a=>{
  g.push({type:'rect',z:40,silent:true,shape:{x:a[0],y:5,width:80,height:36},style:{fill:'#D9D9D9'}});
  T(a[0]+40,23,a[1],F(16),'#1a1a1a','center');
});
T(1939,1485,'ACC',F(20),'#111','center');

const chart=echarts.init(document.getElementById('c'),null,{renderer:'canvas',width:2050,height:1504});
chart.setOption({animation:false,backgroundColor:'#fff',textStyle:{fontFamily:FONT},
 grid:grids,xAxis:xAxes,yAxis:yAxes,series:series,
 visualMap:[{show:false,type:'continuous',seriesIndex:heatIdx,dimension:2,min:-1,max:1,inRange:{color:['#483D8B','#ffffff','#B8860B']}}],
 graphic:{elements:g}});
</script></body></html>
